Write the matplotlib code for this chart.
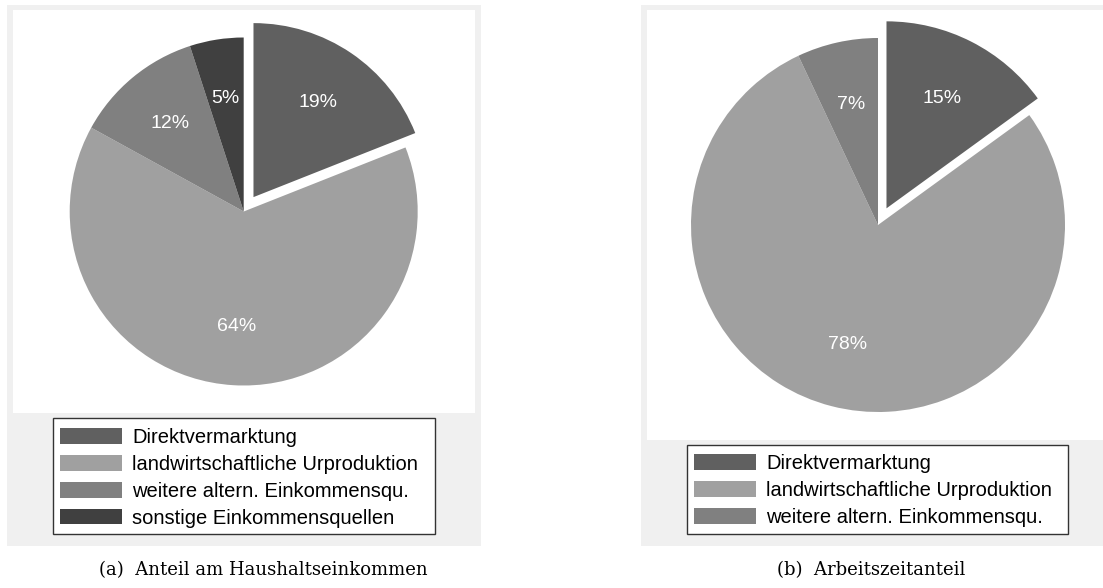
import matplotlib
matplotlib.use("Agg")
import matplotlib.pyplot as plt
from matplotlib.patches import Rectangle

# data
labels_a = ["Direktvermarktung", "landwirtschaftliche Urproduktion",
            "weitere altern. Einkommensqu.", "sonstige Einkommensquellen"]
values_a = [19, 64, 12, 5]
colors_a = ["#606060", "#a0a0a0", "#808080", "#404040"]

labels_b = ["Direktvermarktung", "landwirtschaftliche Urproduktion",
            "weitere altern. Einkommensqu."]
values_b = [15, 78, 7]
colors_b = ["#606060", "#a0a0a0", "#808080"]

captions = ["(a)  Anteil am Haushaltseinkommen", "(b)  Arbeitszeitanteil"]

W, H = 1103, 588
fig = plt.figure(figsize=(W / 100, H / 100), dpi=100)
fig.patch.set_facecolor("white")


def box(x0, y0, x1, y1, **kw):
    # rectangle given in pixel coords from the top-left corner
    r = Rectangle((x0 / W, 1 - y1 / H), (x1 - x0) / W, (y1 - y0) / H,
                  transform=fig.transFigure, **kw)
    fig.add_artist(r)
    return r


sans = ["Liberation Sans", "DejaVu Sans"]


def panel(px, py, pw, ph, radius, values, colors, labels, leg_box, leg_anchor, cap_x, caption):
    ax = fig.add_axes([px / W, 1 - (py + ph) / H, pw / W, ph / H])
    wedges, _, autotexts = ax.pie(values, explode=[0.1] + [0] * (len(values) - 1),
                                  colors=colors, startangle=90, counterclock=False,
                                  autopct="%1.0f%%", pctdistance=0.66,
                                  wedgeprops=dict(linewidth=0),
                                  textprops=dict(color="white", fontsize=14, family=sans))
    ax.set_aspect("auto")
    ax.set_xlim(-pw / 2 / radius, pw / 2 / radius)
    ax.set_ylim(-ph / 2 / radius, ph / 2 / radius)
    ax.set_frame_on(True)
    for s in ax.spines.values():
        s.set_visible(False)
    ax.set_facecolor("white")
    ax.set_zorder(1)

    box(*leg_box, facecolor="white", edgecolor="#333333", linewidth=1, zorder=0.5)
    fig.legend(wedges, labels, loc="upper left",
               bbox_to_anchor=(leg_anchor[0] / W, 1 - leg_anchor[1] / H),
               frameon=False, borderpad=0, borderaxespad=0,
               handlelength=3.1, handleheight=0.83, handletextpad=0.5,
               labelspacing=0.39, prop=dict(family=sans, size=14.5))
    fig.text(cap_x / W, 1 - 570 / H, caption, ha="center", va="center",
             family="DejaVu Serif", fontsize=13)


# grey panels behind each chart
box(7, 5, 481, 546, facecolor="#f0f0f0", edgecolor="none", zorder=-1)
box(641, 5, 1115, 546, facecolor="#f0f0f0", edgecolor="none", zorder=-1)

panel(12.7, 10, 462, 403, 174, values_a, colors_a, labels_a,
      (53, 418, 435, 534), (60, 428), 263, captions[0])
panel(647, 10, 462, 430, 187, values_b, colors_b, labels_b,
      (687, 445, 1068, 534), (694, 454), 871, captions[1])

fig.savefig("out.png", dpi=100)
